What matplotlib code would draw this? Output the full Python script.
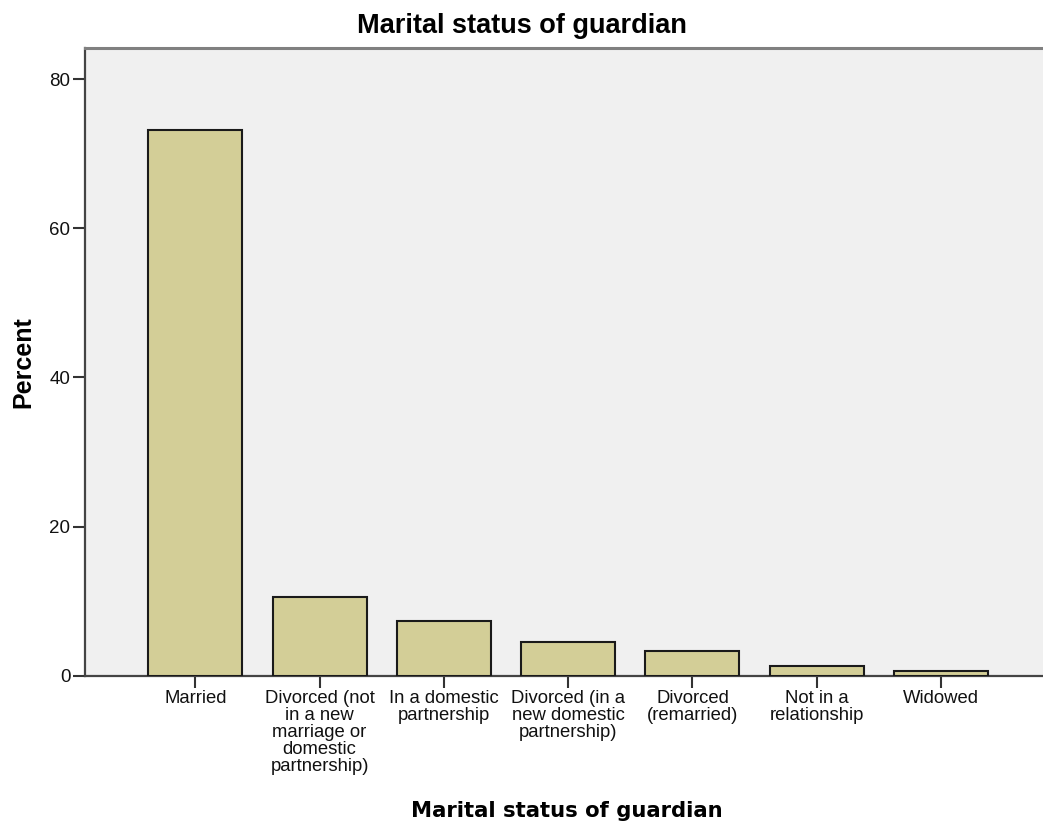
import matplotlib
matplotlib.use("Agg")
import matplotlib.pyplot as plt
import numpy as np

categories = [
    "Married",
    "Divorced (not\nin a new\nmarriage or\ndomestic\npartnership)",
    "In a domestic\npartnership",
    "Divorced (in a\nnew domestic\npartnership)",
    "Divorced\n(remarried)",
    "Not in a\nrelationship",
    "Widowed",
]
percent = [73.2, 10.5, 7.3, 4.5, 3.3, 1.3, 0.6]
y_ticks = [0, 20, 40, 60, 80]

plt.rcParams['font.family'] = ['Liberation Sans', 'DejaVu Sans']

fig = plt.figure(figsize=(10.43, 8.26), dpi=100)
ax = fig.add_axes([85 / 1043, 1 - 675.7 / 826, 1 - 85 / 1043, (675.7 - 47.7) / 826])
ax.set_facecolor('#f0f0f0')

x = np.arange(len(categories))
ax.bar(x, percent, width=0.756, color='#d3ce97', edgecolor='#1a1a1a', linewidth=1.5, zorder=3)

ax.set_xlim(-0.887, 6.82)
ax.set_ylim(0, 84.2)
ax.set_xticks(x)
ax.set_xticklabels(categories, fontsize=13.3, linespacing=1.0, va='top', color='#111111')
ax.set_yticks(y_ticks)
ax.set_yticklabels([str(v) for v in y_ticks], fontsize=13.5, color='#111111')
ax.tick_params(axis='both', direction='out', length=8.6, width=1.5, color='#333333', pad=2)

for s in ['left', 'bottom']:
    ax.spines[s].set_color('#444444')
    ax.spines[s].set_linewidth(1.6)
ax.spines['top'].set_color('#808080')
ax.spines['top'].set_linewidth(2.2)
ax.spines['right'].set_visible(False)

ax.set_ylabel("Percent", fontsize=18, fontweight='bold', labelpad=10)
fig.text(567 / 1043, 1 - 811 / 826, "Marital status of guardian", family='DejaVu Sans',
         fontsize=15.2, fontweight='bold', ha='center', va='center')
fig.text(0.5, 1 - 26 / 826, "Marital status of guardian", fontsize=19.5,
         fontweight='bold', ha='center', va='center')

fig.savefig("out.png", dpi=100)
